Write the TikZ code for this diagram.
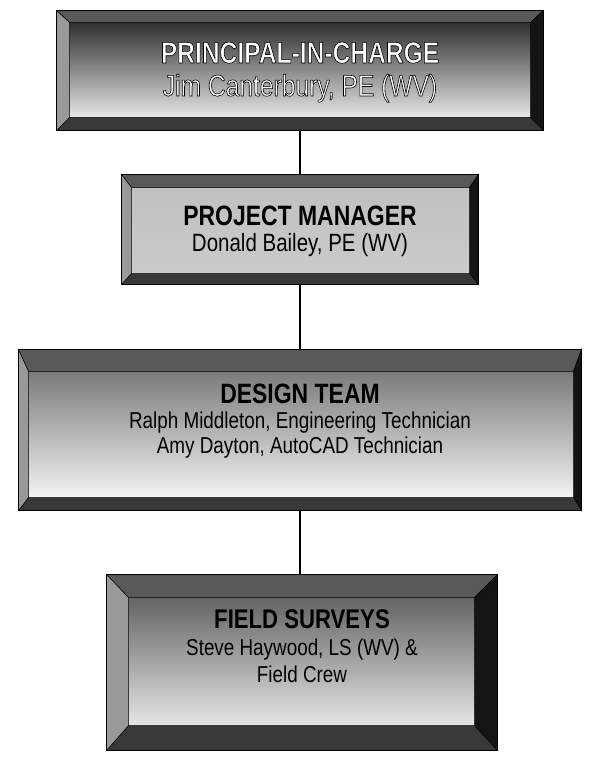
\documentclass[tikz,border=0pt]{standalone}
\usepackage{fontspec}
\setmainfont{Liberation Sans}[FakeStretch=0.82]
\usetikzlibrary{calc,positioning}

% white letters with a thin black outline
\newcommand\outlined[1]{\special{pdf:literal direct 2 Tr 0.6 w 0 G}#1\special{pdf:literal direct 0 Tr}}

% bevelled frame round a box node: name, left, top, right, bottom width
\newcommand\bevel[5]{%
  \coordinate (#1-nw) at ($(#1.north west)+(#2,#3)$);
  \coordinate (#1-ne) at ($(#1.north east)+(-#4,#3)$);
  \coordinate (#1-se) at ($(#1.south east)+(-#4,-#5)$);
  \coordinate (#1-sw) at ($(#1.south west)+(#2,-#5)$);
  \filldraw[bevtop] (#1.north west) -- (#1.north east) -- (#1-ne) -- (#1-nw) -- cycle;
  \filldraw[bevright] (#1.north east) -- (#1.south east) -- (#1-se) -- (#1-ne) -- cycle;
  \filldraw[bevbot] (#1.south east) -- (#1.south west) -- (#1-sw) -- (#1-se) -- cycle;
  \filldraw[bevleft] (#1.south west) -- (#1.north west) -- (#1-nw) -- (#1-sw) -- cycle;
  \draw[box] (#1.north west) rectangle (#1.south east);
}

\begin{document}
\begin{tikzpicture}[x=1pt,y=-1pt,
  box/.style={draw=black,line width=1pt,inner sep=0pt},
  bevtop/.style={fill=black!65,draw=black,line width=.5pt},
  bevleft/.style={fill=black!40,draw=black,line width=.5pt},
  bevright/.style={fill=black!92,draw=black,line width=.5pt},
  bevbot/.style={fill=black!78,draw=black,line width=.5pt},
  hdr/.style={font=\fontsize{28}{30}\selectfont\bfseries,anchor=base,inner sep=0pt},
  nm/.style={font=\fontsize{23}{26}\selectfont,anchor=base,inner sep=0pt},
  link/.style={line width=1.2pt}]
\useasboundingbox (0,0) rectangle (598,762);

\node[box,top color=black!90,middle color=black!45,bottom color=white,minimum width=486pt,minimum height=119pt] (pic) at (300,70.5) {};
\node[box,top color=black!25,middle color=white,bottom color=black!20,minimum width=356pt,minimum height=109pt] (pm) at (300,229.5) {};
\node[box,top color=black!60,middle color=black!15,bottom color=white,minimum width=562pt,minimum height=160pt] (design) at (300,430) {};
\node[box,top color=black!70,middle color=black!18,bottom color=white,minimum width=390pt,minimum height=175pt] (field) at (302,662.5) {};

\bevel{pic}{13}{12}{13}{13}
\bevel{pm}{10}{13}{9}{11}
\bevel{design}{10}{22}{8}{13}
\bevel{field}{22}{23}{23}{25}

\draw[link] (pic.south) -- (pm.north);
\draw[link] (pm.south) -- (design.north);
\draw[link] (design.south) -- (design.south |- field.north);

\node[hdr,text=white,font=\fontsize{30}{32}\selectfont\bfseries] (pic-h) at (300,63) {\outlined{PRINCIPAL-IN-CHARGE}};
\node[nm,text=white,font=\fontsize{30}{32}\selectfont] (pic-n) at (300,96) {\outlined{Jim Canterbury, PE (WV)}};

\node[hdr] (pm-h) at (300,225) {PROJECT MANAGER};
\node[nm,font=\fontsize{25}{28}\selectfont] (pm-n) at (300,251) {Donald Bailey, PE (WV)};

\node[hdr] (design-h) at (300,403) {DESIGN TEAM};
\node[nm] (design-n1) at (300,428) {Ralph Middleton, Engineering Technician};
\node[nm] (design-n2) at (300,453) {Amy Dayton, AutoCAD Technician};

\node[hdr,font=\fontsize{27}{28}\selectfont\bfseries] (field-h) at (302,628) {FIELD SURVEYS};
\node[nm] (field-n1) at (302,655) {Steve Haywood, LS (WV) \&};
\node[nm] (field-n2) at (302,682) {Field Crew};
\end{tikzpicture}
\end{document}
